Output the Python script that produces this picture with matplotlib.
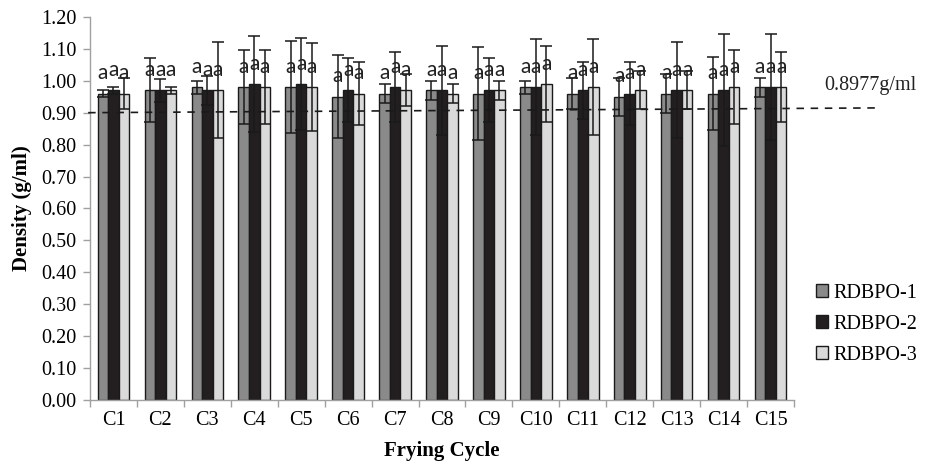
import numpy as np
import matplotlib
matplotlib.use("Agg")
import matplotlib.pyplot as plt

cycles = ["C%d" % i for i in range(1, 16)]
series_names = ["RDBPO-1", "RDBPO-2", "RDBPO-3"]

rdbpo1 = [0.96, 0.97, 0.98, 0.98, 0.98, 0.95, 0.96, 0.97, 0.96, 0.98, 0.96, 0.95, 0.96, 0.96, 0.98]
rdbpo2 = [0.97, 0.97, 0.97, 0.99, 0.99, 0.97, 0.98, 0.97, 0.97, 0.98, 0.97, 0.96, 0.97, 0.97, 0.98]
rdbpo3 = [0.96, 0.97, 0.97, 0.98, 0.98, 0.96, 0.97, 0.96, 0.97, 0.99, 0.98, 0.97, 0.97, 0.98, 0.98]

err1 = [0.01, 0.10, 0.02, 0.115, 0.145, 0.13, 0.03, 0.03, 0.145, 0.02, 0.05, 0.06, 0.06, 0.115, 0.03]
err2 = [0.01, 0.035, 0.045, 0.15, 0.145, 0.10, 0.11, 0.14, 0.10, 0.15, 0.09, 0.10, 0.15, 0.175, 0.165]
err3 = [0.05, 0.01, 0.15, 0.115, 0.137, 0.10, 0.05, 0.03, 0.03, 0.12, 0.15, 0.06, 0.06, 0.115, 0.11]

letters = ["a", "a", "a"]
ref_label = "0.8977g/ml"
ref_line = [0.90, 0.915]  # dashed reference as drawn (slightly tilted)

serif = "Liberation Serif"
colors = ["#8a8a8a", "#231f20", "#dadada"]

fig = plt.figure(figsize=(9.33, 4.70), dpi=100)
ax = fig.add_axes([0.0965, 0.149, 0.7545, 0.815])

x = np.arange(len(cycles))
w = 0.225
values = [rdbpo1, rdbpo2, rdbpo3]
errs = [err1, err2, err3]

for i, (vals, er) in enumerate(zip(values, errs)):
    pos = x + (i - 1) * w
    ax.bar(pos, vals, width=w, color=colors[i], edgecolor="#1a1a1a",
           linewidth=1.0, label=series_names[i], zorder=2)
    ax.errorbar(pos, vals, yerr=er, fmt="none", ecolor="#1a1a1a",
                elinewidth=1.1, capsize=4.5, capthick=1.1, zorder=3)
    for p, v in zip(pos, vals):
        ax.text(p, v + 0.064, letters[i], ha="center", va="center",
                fontsize=15, family="Lato", color="#222222", zorder=4)

# reference density line
ax.plot([-0.54, 16.34], ref_line, linestyle=(0, (4.5, 4)), color="#1a1a1a",
        linewidth=1.2, clip_on=False, zorder=5)
ax.text(17.1, 0.985, ref_label, ha="right", va="center", fontsize=14.5,
        family=serif, color="#222222")

ax.set_xlim(-0.5, len(cycles) - 0.5)
ax.set_ylim(0, 1.2)
ticks = np.arange(0, 1.21, 0.1)
ax.set_yticks(ticks)
ax.set_yticklabels(["%.2f" % t for t in ticks], family=serif, fontsize=14.5)
ax.set_xticks(x)
ax.set_xticklabels(cycles, family=serif, fontsize=14.5)
ax.set_xticks(np.arange(-0.5, len(cycles), 1.0), minor=True)
ax.tick_params(axis="x", which="major", length=0, pad=8)
ax.tick_params(axis="x", which="minor", length=5, color="#a0a0a0", width=1)
ax.tick_params(axis="y", length=5, color="#a0a0a0", width=1, pad=5)

for s in ["top", "right"]:
    ax.spines[s].set_visible(False)
for s in ["left", "bottom"]:
    ax.spines[s].set_color("#a0a0a0")
    ax.spines[s].set_linewidth(1)

ax.set_xlabel("Frying Cycle", family=serif, fontsize=15, fontweight="bold", labelpad=8)
ax.set_ylabel("Density (g/ml)", family=serif, fontsize=15, fontweight="bold", labelpad=6)

fig.legend(loc="center left", bbox_to_anchor=(0.866, 0.31), frameon=False,
           prop={"family": serif, "size": 14.5}, handlelength=0.6, handleheight=0.6,
           handletextpad=0.25, labelspacing=0.6, borderaxespad=0)

fig.savefig("out.png", dpi=100)
